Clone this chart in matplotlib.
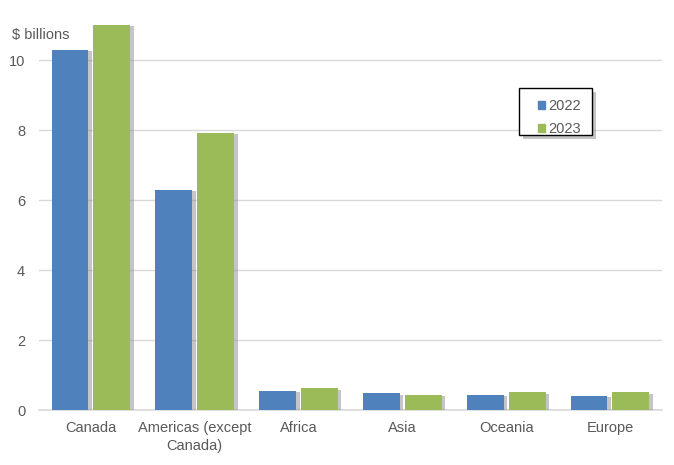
import numpy as np
import matplotlib.pyplot as plt
import matplotlib.patheffects as pe
from matplotlib.patches import Rectangle

regions = ['Canada', 'Americas (except\nCanada)', 'Africa', 'Asia', 'Oceania', 'Europe']
val_2022 = [10.30, 6.30, 0.56, 0.48, 0.44, 0.41]
val_2023 = [11.00, 7.92, 0.62, 0.44, 0.51, 0.51]

blue = '#4f81bd'
green = '#9bbb59'
txt = '#595959'

plt.rcParams['font.family'] = ['Liberation Sans', 'DejaVu Sans']

W, H = 674, 465
fig = plt.figure(figsize=(W / 100, H / 100), dpi=100)
ax = fig.add_axes([0.058, 0.118, 0.924, 0.828])

x = np.arange(len(regions))
w = 0.356
gap = 0.048
shadow = [pe.SimplePatchShadow(offset=(2.5, -1), shadow_rgbFace='#8c8c8c', alpha=0.5), pe.Normal()]

b1 = ax.bar(x - (w + gap) / 2, val_2022, width=w, color=blue, zorder=3)
b2 = ax.bar(x + (w + gap) / 2, val_2023, width=w, color=green, zorder=3)
for b in list(b1) + list(b2):
    b.set_path_effects(shadow)

ax.set_xlim(-0.5, len(regions) - 0.5)
ax.set_ylim(0, 11)
ax.set_yticks([0, 2, 4, 6, 8, 10])
ax.set_xticks(x)
ax.set_xticklabels(regions, linespacing=1.3)
ax.tick_params(axis='both', length=0, colors=txt, labelsize=10.5)
ax.tick_params(axis='x', pad=8)
ax.tick_params(axis='y', pad=10)
ax.grid(axis='y', color='#d9d9d9', linewidth=1, zorder=0)

for s in ['top', 'right', 'left']:
    ax.spines[s].set_visible(False)
ax.spines['bottom'].set_color('#d9d9d9')
ax.spines['bottom'].set_linewidth(1.2)

fig.text(12 / W, 1 - 35 / H, '$ billions', color=txt, fontsize=10.5, va='center', ha='left')

# legend box drawn separately so the padding matches
box = Rectangle((519 / W, 1 - 135 / H), 73 / W, 47 / H, transform=fig.transFigure,
                facecolor='white', edgecolor='black', linewidth=1.0, zorder=5, clip_on=False)
box.set_path_effects([pe.SimplePatchShadow(offset=(3, -3), shadow_rgbFace='#7f7f7f', alpha=0.45),
                      pe.Normal()])
ax.add_artist(box)

handles = [Rectangle((0, 0), 1, 1, color=blue), Rectangle((0, 0), 1, 1, color=green)]
leg = ax.legend(handles, ['2022', '2023'], loc='upper left', bbox_to_anchor=(531 / W, 1 - 92 / H),
                bbox_transform=fig.transFigure, frameon=False, fontsize=10.5,
                handlelength=0.45, handleheight=0.45, handletextpad=0.25, borderpad=0,
                labelspacing=0.6, labelcolor=txt)
leg.set_zorder(6)

fig.savefig('out.png', dpi=100)
